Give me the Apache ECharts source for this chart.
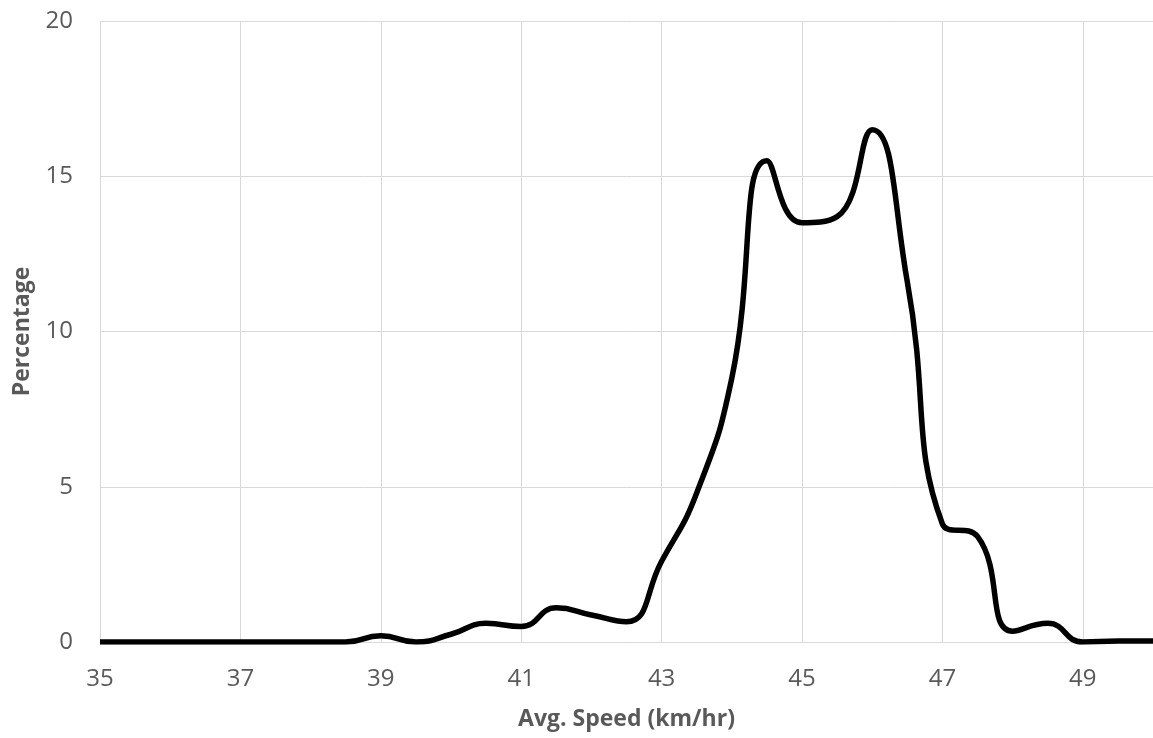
<!DOCTYPE html>
<html>
<head>
<meta charset="utf-8">
<script src="https://cdn.jsdelivr.net/npm/echarts@6/dist/echarts.min.js"></script>
<style>
html,body{margin:0;padding:0;background:#fff;}
#chart{width:1153px;height:738px;}
</style>
</head>
<body>
<div id="chart"></div>
<script>
// Avg. speed categories (km/hr), 0.5 step
const speeds = ['35','35.5','36','36.5','37','37.5','38','38.5','39','39.5','40','40.5','41','41.5','42','42.5','43','43.5','44','44.5','45','45.5','46','46.5','47','47.5','48','48.5','49','49.5','50'];
// Percentage values
const percentage = [0,0,0,0,0,0,0,0,0.2,0,0.25,0.6,0.5,1.1,0.87,0.65,2.6,4.8,8.5,15.5,13.5,13.7,16.5,11.6,3.8,3.4,0.35,0.6,0,0.03,0.03];
const yTicks = [0,5,10,15,20];

const chart = echarts.init(document.getElementById('chart'), null, {renderer:'canvas'});
const labelColor = '#595959';
const gridColor = '#d9d9d9';
chart.setOption({
  animation:false,
  backgroundColor:'#ffffff',
  grid:{left:100, right:0, top:21, bottom:96},
  xAxis:{
    type:'category',
    data:speeds,
    boundaryGap:false,
    name:'Avg. Speed (km/hr)',
    nameLocation:'middle',
    nameGap:66,
    nameTextStyle:{color:labelColor, fontFamily:'Open Sans', fontWeight:'bold', fontSize:23},
    axisLine:{show:true, lineStyle:{color:gridColor, width:1}},
    axisTick:{show:false},
    axisLabel:{interval:3, color:labelColor, fontFamily:'Open Sans', fontSize:24, margin:25},
    splitLine:{show:true, interval:3, lineStyle:{color:gridColor, width:1}}
  },
  yAxis:{
    type:'value',
    min:yTicks[0], max:yTicks[yTicks.length-1], interval:5,
    name:'Percentage',
    nameLocation:'middle',
    nameGap:66,
    nameRotate:90,
    nameTextStyle:{color:labelColor, fontFamily:'Open Sans', fontWeight:'bold', fontSize:23},
    axisLine:{show:false},
    axisTick:{show:false},
    axisLabel:{color:labelColor, fontFamily:'Open Sans', fontSize:24, margin:27},
    splitLine:{show:true, lineStyle:{color:gridColor, width:1}}
  },
  series:[{
    type:'line',
    data:percentage,
    smooth:0.5,
    symbol:'none',
    lineStyle:{color:'#000000', width:5.5}
  }]
});
</script>
</body>
</html>
